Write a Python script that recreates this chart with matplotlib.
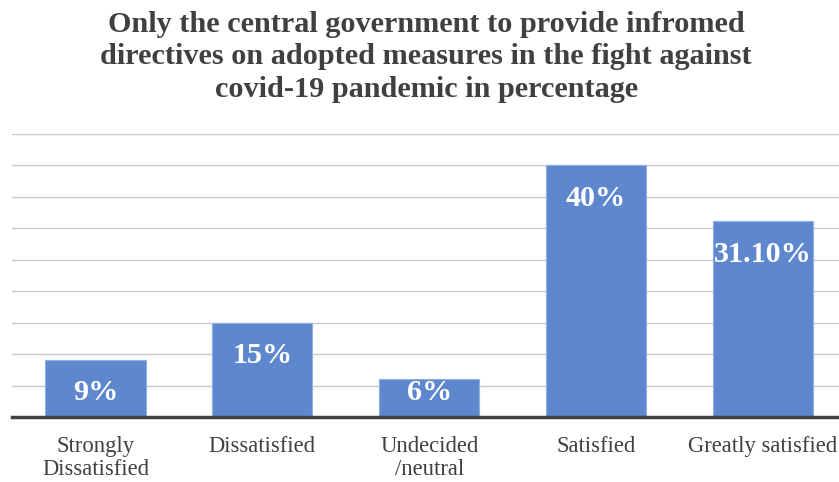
import matplotlib.pyplot as plt
import numpy as np

categories = ['Strongly\nDissatisfied', 'Dissatisfied', 'Undecided\n/neutral',
              'Satisfied', 'Greatly satisfied']
values = [9, 15, 6, 40, 31.1]
value_labels = ['9%', '15%', '6%', '40%', '31.10%']

title = ('Only the central government to provide infromed\n'
         'directives on adopted measures in the fight against\n'
         'covid-19 pandemic in percentage')

plt.rcParams['font.family'] = ['Liberation Serif', 'DejaVu Serif']

fig = plt.figure(figsize=(8.39, 4.82), dpi=100)
ax = fig.add_axes([12 / 839, 1 - 417 / 482, 1 - 12 / 839, (417 - 134) / 482])

x = np.arange(len(categories))
ax.bar(x, values, width=0.6, color='#5E87CE', edgecolor='#8FB0E2', linewidth=0.8, zorder=2)

# gridlines every 5
ax.set_ylim(0, 45)
ax.set_yticks(np.arange(5, 50, 5))
ax.yaxis.grid(True, color='#C8C8C8', linewidth=1.0, zorder=0)
ax.set_xlim(-0.5, 4.455)

for s in ['top', 'right', 'left']:
    ax.spines[s].set_visible(False)
ax.spines['bottom'].set_color('#404040')
ax.spines['bottom'].set_linewidth(2.5)
ax.spines['bottom'].set_zorder(3)
ax.tick_params(axis='y', left=False, labelleft=False)
ax.tick_params(axis='x', length=0, pad=14)

ax.set_xticks(x)
ax.set_xticklabels(categories, fontsize=16.3, color='#404040', linespacing=1.1)

# labels inside bar ends (kept above the base for short bars)
for xi, v, lab in zip(x, values, value_labels):
    y = max(v - 5.3, 3.85)
    ax.text(xi, y, lab, ha='center', va='center', color='white',
            fontsize=21.7, fontweight='bold', zorder=4)

fig.text(0.508, 1 - 57 / 482, title, ha='center', va='center', fontsize=21.8,
         fontweight='bold', color='#404040', linespacing=1.24)

fig.savefig('out.png', dpi=100)
